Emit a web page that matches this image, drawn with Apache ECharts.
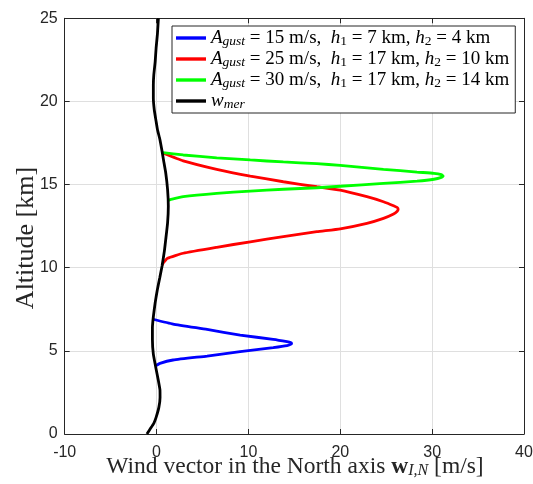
<!DOCTYPE html>
<html>
<head>
<meta charset="utf-8">
<script src="https://cdn.jsdelivr.net/npm/echarts@6/dist/echarts.min.js"></script>
<style>
html,body{margin:0;padding:0;background:#fff;}
#chart{width:533px;height:484px;}
</style>
</head>
<body>
<div id="chart"></div>
<script>
// ---- data ----
const xTicks = [-10, 0, 10, 20, 30, 40];
const yTicks = [0, 5, 10, 15, 20, 25];
const xTitle = 'Wind vector in the North axis {b|w}{s|I,N} [m/s]';
const yTitle = 'Altitude [km]';

// w_mer (altitude [km], wind [m/s])
const wmerAlt = [0, 0.3, 0.64, 1.0, 1.6, 2.2, 2.65, 3.2, 4.05, 4.8, 5.65, 6.4, 7.05, 7.9, 8.66, 9.4, 10.1, 11.0, 11.7, 12.7, 13.7, 14.7, 15.7, 16.5, 17.0, 17.7, 18.3, 18.8, 19.5, 20.2, 21.0, 21.6, 22.4, 23.2, 24.1, 25];
const wmerVal = [-1.05, -0.7, -0.3, -0.05, 0.25, 0.38, 0.37, 0.2, -0.1, -0.35, -0.45, -0.45, -0.35, -0.15, 0.08, 0.35, 0.6, 0.85, 1.0, 1.2, 1.28, 1.2, 1.0, 0.75, 0.6, 0.37, 0.1, -0.05, -0.25, -0.35, -0.35, -0.3, -0.15, -0.05, 0.1, 0.2];

// gust A=15, h1=7, h2=4
const blueAlt = [4.1, 4.25, 4.45, 4.69, 4.95, 5.19, 5.31, 5.4, 5.45, 5.5, 5.55, 5.69, 5.95, 6.29, 6.61, 6.9];
const blueVal = [-0.1, 0.37, 1.8, 5.5, 9.1, 12.7, 14.2, 14.6, 14.7, 14.6, 14.2, 12.7, 9.1, 5.5, 1.8, -0.38];

// gust A=25, h1=17, h2=10
const redAlt = [10.15, 10.3, 10.57, 10.87, 11.23, 11.56, 11.87, 12.17, 12.34, 12.67, 12.97, 13.23, 13.4, 13.51, 13.62, 13.73, 13.97, 14.27, 14.67, 14.87, 15.17, 15.51, 15.92, 16.43, 16.88];
const redVal = [0.6, 0.75, 1.2, 2.9, 6.55, 10.2, 13.8, 17.45, 20.0, 22.9, 24.7, 25.8, 26.2, 26.3, 26.2, 25.8, 24.7, 22.9, 20.0, 17.45, 13.8, 10.2, 6.55, 2.9, 0.73];

// gust A=30, h1=17, h2=14
const greenAlt = [14.05, 14.12, 14.27, 14.47, 14.61, 14.72, 14.81, 14.9, 15.07, 15.21, 15.32, 15.43, 15.51, 15.6, 15.68, 15.75, 15.92, 16.15, 16.26, 16.36, 16.48, 16.61, 16.78, 16.92];
const greenVal = [1.28, 1.7, 2.9, 6.55, 10.2, 13.8, 17.45, 20.0, 24.7, 28.35, 30.2, 31.0, 31.2, 31.0, 30.2, 28.35, 24.7, 20.0, 17.45, 13.8, 10.2, 6.55, 2.9, 0.7];

const seriesNames = ['gust15', 'gust25', 'gust30', 'wmer'];
const legendLabels = {
  gust15: '{i|A}{s|gust}{t| = 15 m/s,  }{i|h}{n|1}{t| = 7 km, }{i|h}{n|2}{t| = 4 km}',
  gust25: '{i|A}{s|gust}{t| = 25 m/s,  }{i|h}{n|1}{t| = 17 km, }{i|h}{n|2}{t| = 10 km}',
  gust30: '{i|A}{s|gust}{t| = 30 m/s,  }{i|h}{n|1}{t| = 17 km, }{i|h}{n|2}{t| = 14 km}',
  wmer: '{i|w}{s|mer}'
};
const colors = ['#0000ff', '#ff0000', '#00ff00', '#000000'];

function pairs(vals, alts) { return vals.map((v, i) => [v, alts[i]]); }
const seriesData = [pairs(blueVal, blueAlt), pairs(redVal, redAlt), pairs(greenVal, greenAlt), pairs(wmerVal, wmerAlt)];

const serif = 'Liberation Serif';
const sans = 'Liberation Sans';
const axisCol = '#262626';

const chart = echarts.init(document.getElementById('chart'), null, {renderer: 'canvas'});
const option = {
  animation: false,
  backgroundColor: '#ffffff',
  grid: {left: 64.7, right: 9, top: 18.3, bottom: 50, containLabel: false, outerBoundsMode: 'none'},
  xAxis: [{
    type: 'value', min: xTicks[0], max: xTicks[xTicks.length - 1], interval: 10,
    position: 'bottom',
    axisLine: {show: true, onZero: false, lineStyle: {color: axisCol, width: 1}},
    axisTick: {show: true, inside: true, length: 5, lineStyle: {color: axisCol}},
    axisLabel: {show: true, margin: 11, color: axisCol, fontFamily: sans, fontSize: 16, showMinLabel: true, showMaxLabel: true},
    splitLine: {show: true, lineStyle: {color: '#dfdfdf', width: 1}}
  }, {
    type: 'value', min: xTicks[0], max: xTicks[xTicks.length - 1], interval: 10,
    position: 'top',
    axisLine: {show: true, onZero: false, lineStyle: {color: axisCol, width: 1}},
    axisTick: {show: true, inside: true, length: 5, lineStyle: {color: axisCol}},
    axisLabel: {show: false}, splitLine: {show: false}
  }],
  yAxis: [{
    type: 'value', min: yTicks[0], max: yTicks[yTicks.length - 1], interval: 5,
    position: 'left',
    axisLine: {show: true, onZero: false, lineStyle: {color: axisCol, width: 1}},
    axisTick: {show: true, inside: true, length: 5, lineStyle: {color: axisCol}},
    axisLabel: {show: true, margin: 7, color: axisCol, fontFamily: sans, fontSize: 16, showMinLabel: true, showMaxLabel: true},
    splitLine: {show: true, lineStyle: {color: '#dfdfdf', width: 1}}
  }, {
    type: 'value', min: yTicks[0], max: yTicks[yTicks.length - 1], interval: 5,
    position: 'right',
    axisLine: {show: true, onZero: false, lineStyle: {color: axisCol, width: 1}},
    axisTick: {show: true, inside: true, length: 5, lineStyle: {color: axisCol}},
    axisLabel: {show: false}, splitLine: {show: false}
  }],
  graphic: [{
    type: 'text', x: 295, y: 467, z: 10,
    style: {
      text: xTitle, align: 'center', verticalAlign: 'middle',
      fontFamily: serif, fontSize: 23.5, fill: axisCol,
      rich: {
        b: {fontFamily: serif, fontWeight: 'bold', fontSize: 23.5, fill: axisCol},
        s: {fontFamily: serif, fontStyle: 'italic', fontSize: 16, fill: axisCol, verticalAlign: 'bottom', lineHeight: 15}
      }
    }
  }, {
    type: 'text', x: 26, y: 238, rotation: Math.PI / 2, z: 10,
    style: {
      text: yTitle, align: 'center', verticalAlign: 'middle',
      fontFamily: serif, fontSize: 26, fill: axisCol
    }
  }],
  legend: {
    orient: 'vertical', left: 172, top: 26,
    padding: [2, 6, 2, 4], itemGap: 1, itemWidth: 30, itemHeight: 3.4,
    icon: 'rect',
    backgroundColor: '#ffffff', borderColor: axisCol, borderWidth: 1, borderRadius: 0,
    selectedMode: false,
    data: seriesNames,
    formatter: name => legendLabels[name],
    textStyle: {
      fontFamily: serif, fontSize: 19, color: '#000', lineHeight: 20,
      rich: {
        t: {fontFamily: serif, fontSize: 19, color: '#000', lineHeight: 20},
        i: {fontFamily: serif, fontStyle: 'italic', fontSize: 19, color: '#000', lineHeight: 20},
        s: {fontFamily: serif, fontStyle: 'italic', fontSize: 13.5, color: '#000', lineHeight: 12, verticalAlign: 'bottom'},
        n: {fontFamily: serif, fontSize: 13.5, color: '#000', lineHeight: 12, verticalAlign: 'bottom'}
      }
    }
  },
  series: seriesNames.map((nm, k) => ({
    name: nm, type: 'line', xAxisIndex: 0, yAxisIndex: 0,
    data: seriesData[k], showSymbol: false, symbol: 'none',
    smooth: 0.15, clip: true,
    lineStyle: {color: colors[k], width: 2.8},
    itemStyle: {color: colors[k]},
    z: 2 + k
  }))
};
chart.setOption(option);
</script>
</body>
</html>
